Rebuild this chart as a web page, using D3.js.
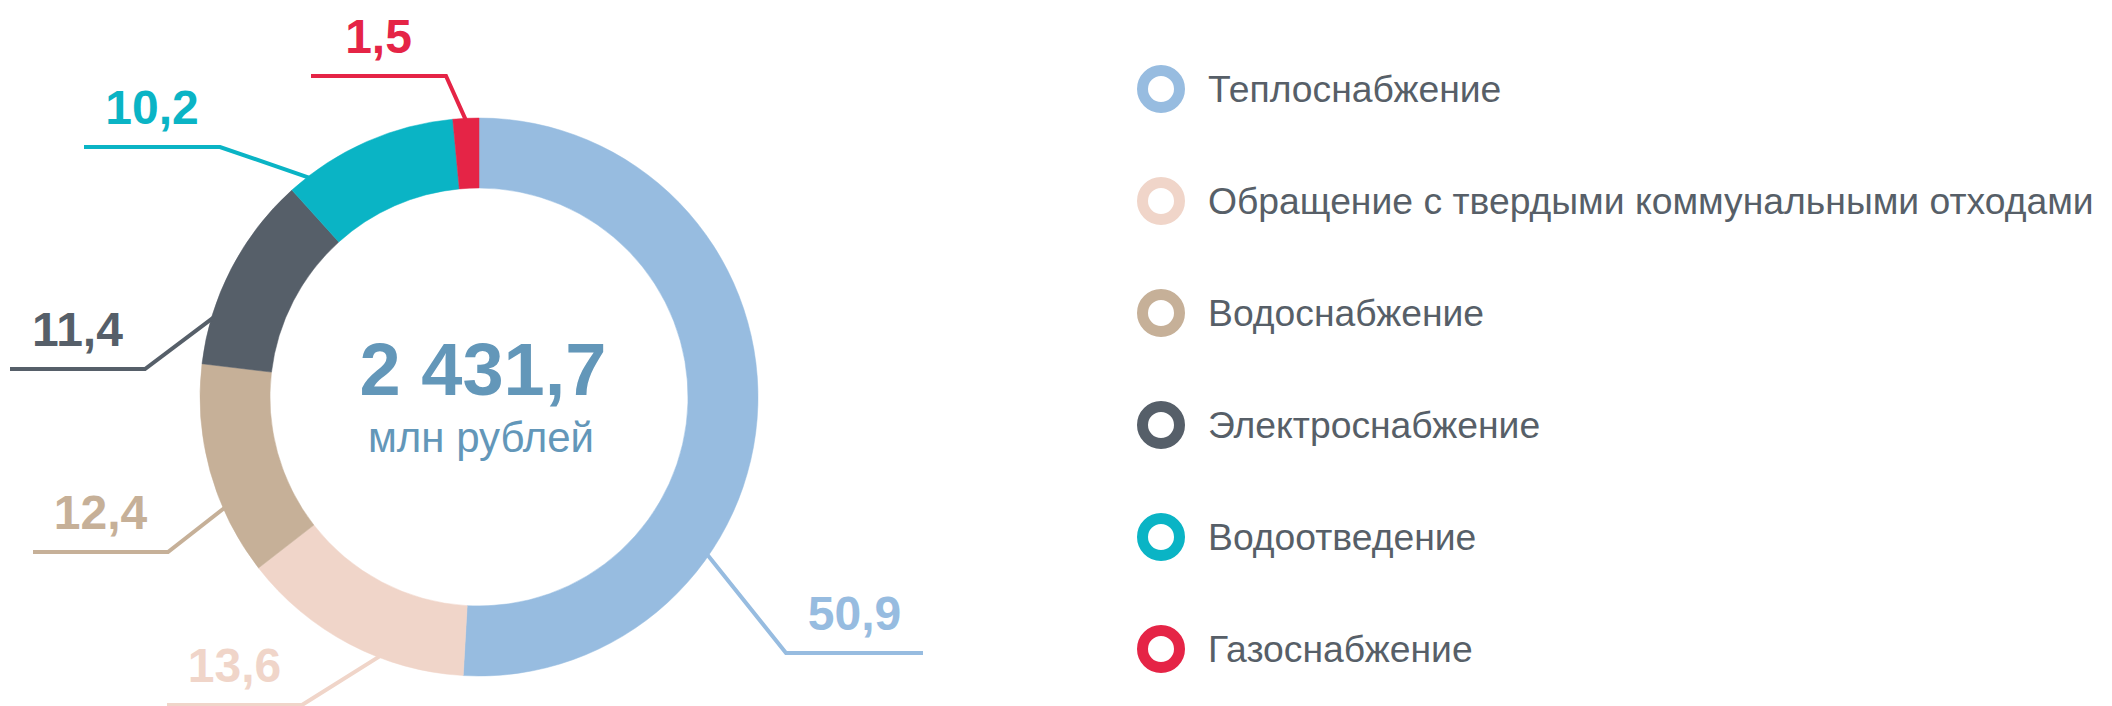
<!DOCTYPE html>
<html>
<head>
<meta charset="utf-8">
<script src="https://cdn.jsdelivr.net/npm/d3@7"></script>
<style>
  html, body { margin: 0; padding: 0; background: #ffffff; }
  svg { display: block; }
  text { font-family: "Liberation Sans", Arial, Helvetica, sans-serif; }
</style>
</head>
<body>
<svg id="chart" width="2112" height="706"></svg>
<script>
// ---- DATA ----
const categories = [
  "Теплоснабжение",
  "Обращение с твердыми коммунальными отходами",
  "Водоснабжение",
  "Электроснабжение",
  "Водоотведение",
  "Газоснабжение"
];
const shares = [50.9, 13.6, 12.4, 11.4, 10.2, 1.5];
const valueLabels = ["50,9", "13,6", "12,4", "11,4", "10,2", "1,5"];
const totalLabel = "2 431,7";
const unitLabel = "млн рублей";

// ---- STYLE / LAYOUT ----
const colors = ["#97BCE0", "#F0D5C9", "#C6B098", "#565F69", "#0AB4C5", "#E52446"];
const W = 2112, H = 706;
const cx = 479, cy = 397;
const outerR = 279, innerR = 209;
// leader layout: position along slice (0..1), elbow offset from centre, end x offset
const leaders = [
  { t: 0.68, ex: 307,  ey: 256,  endX: 444 },
  { t: 0.36, ex: -177, ey: 308,  endX: -312 },
  { t: 0.32, ex: -311, ey: 155,  endX: -446 },
  { t: 0.24, ex: -334, ey: -28,  endX: -469 },
  { t: 0.12, ex: -259, ey: -250, endX: -395 },
  { t: 0.50, ex: -33,  ey: -321, endX: -168 }
];

const svg = d3.select("#chart");
const g = svg.append("g").attr("transform", `translate(${cx},${cy})`);

const pie = d3.pie().sort(null).value(d => d)
  .startAngle(0).endAngle(2 * Math.PI);
const arcs = pie(shares);
const arc = d3.arc().innerRadius(innerR).outerRadius(outerR);

g.selectAll("path.slice")
  .data(arcs)
  .enter().append("path")
  .attr("class", "slice")
  .attr("d", arc)
  .attr("fill", (d, i) => colors[i])
  .attr("stroke", (d, i) => colors[i])
  .attr("stroke-width", 0.5);

// leader lines + labels
arcs.forEach((d, i) => {
  const L = leaders[i];
  const a = d.startAngle + L.t * (d.endAngle - d.startAngle);
  const r = outerR - 2;
  const sx = r * Math.sin(a), sy = -r * Math.cos(a);
  const pts = [[sx, sy], [L.ex, L.ey], [L.endX, L.ey]];
  g.append("path")
    .attr("d", d3.line()(pts))
    .attr("fill", "none")
    .attr("stroke", colors[i])
    .attr("stroke-width", 4)
    .attr("stroke-linejoin", "miter");
  g.append("text")
    .attr("x", (L.ex + L.endX) / 2)
    .attr("y", L.ey - 23)
    .attr("text-anchor", "middle")
    .attr("font-size", 48)
    .attr("font-weight", "bold")
    .attr("fill", colors[i])
    .text(valueLabels[i]);
});

// centre text
g.append("text")
  .attr("x", 4).attr("y", -2)
  .attr("text-anchor", "middle")
  .attr("font-size", 74)
  .attr("font-weight", "bold")
  .attr("fill", "#6397B9")
  .text(totalLabel);
g.append("text")
  .attr("x", 2).attr("y", 55)
  .attr("text-anchor", "middle")
  .attr("font-size", 42)
  .attr("fill", "#6397B9")
  .text(unitLabel);

// legend
const legendY = d3.scalePoint().domain(categories).range([89, 649]);
const legend = svg.append("g");
const items = legend.selectAll("g.item")
  .data(categories)
  .enter().append("g")
  .attr("class", "item")
  .attr("transform", d => `translate(1161,${legendY(d)})`);
items.append("circle")
  .attr("r", 18.5)
  .attr("fill", "none")
  .attr("stroke", (d, i) => colors[i])
  .attr("stroke-width", 11);
items.append("text")
  .attr("x", 47)
  .attr("y", 13)
  .attr("font-size", 37.3)
  .attr("fill", "#575F68")
  .text(d => d);
</script>
</body>
</html>
